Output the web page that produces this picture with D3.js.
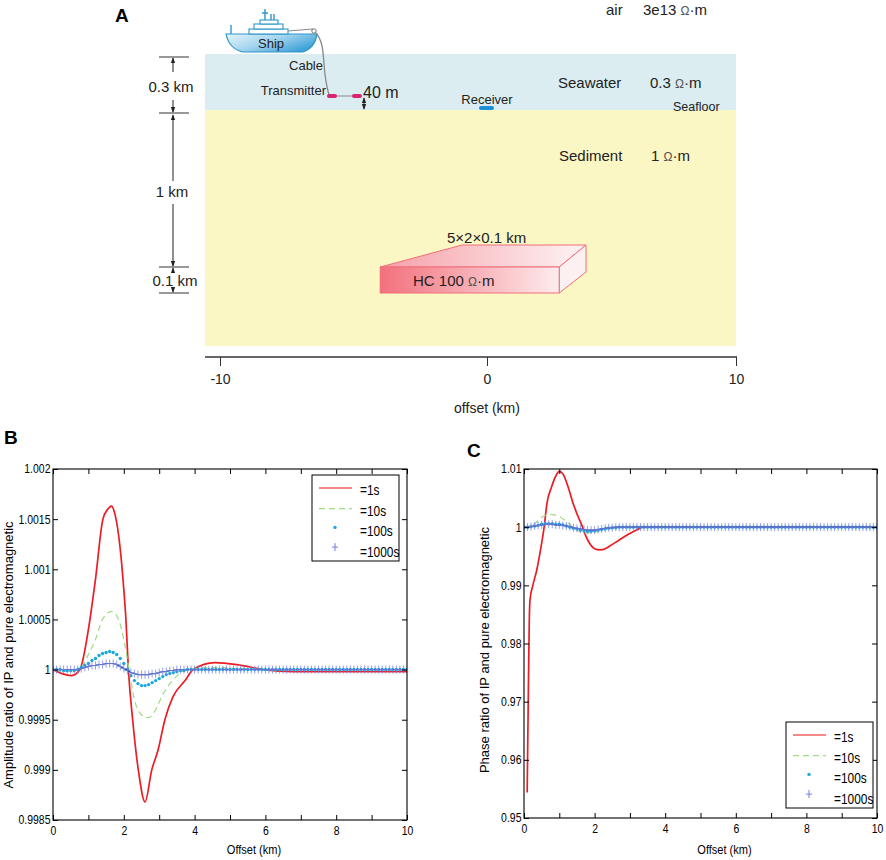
<!DOCTYPE html>
<html>
<head>
<meta charset="utf-8">
<script src="https://cdn.jsdelivr.net/npm/d3@7"></script>
<style>
body{margin:0;background:#fff;}
svg{display:block;font-family:"Liberation Sans",Arial,sans-serif;}
</style>
</head>
<body>
<div id="fig"></div>
<script>
// ---- data ----
var modelTicks = [-10, 0, 10];
var offsetTicks = [0,1,2,3,4,5,6,7,8,9,10];
var ampTicks = [0.9985,0.999,0.9995,1,1.0005,1.001,1.0015,1.002];
var phaTicks = [0.95,0.96,0.97,0.98,0.99,1,1.01];
var legendLabels = ["=1s","=10s","=100s","=1000s"];

// sampling grid of the 100s / 1000s markers (km)
var offsetGrid = [0,0.1,0.2,0.3,0.4,0.5,0.6,0.7,0.8,0.9,
  1,1.1,1.2,1.3,1.4,1.5,1.6,1.7,1.8,1.9,
  2,2.1,2.2,2.3,2.4,2.5,2.6,2.7,2.8,2.9,
  3,3.1,3.2,3.3,3.4,3.5,3.6,3.7,3.8,3.9,
  4,4.1,4.2,4.3,4.4,4.5,4.6,4.7,4.8,4.9,
  5,5.1,5.2,5.3,5.4,5.5,5.6,5.7,5.8,5.9,
  6,6.1,6.2,6.3,6.4,6.5,6.6,6.7,6.8,6.9,
  7,7.1,7.2,7.3,7.4,7.5,7.6,7.7,7.8,7.9,
  8,8.1,8.2,8.3,8.4,8.5,8.6,8.7,8.8,8.9,
  9,9.1,9.2,9.3,9.4,9.5,9.6,9.7,9.8,9.9,
  10];

// B: amplitude ratio
var ampT1Off = [0,0.25,0.53,0.76,1.0,1.2,1.41,1.55,1.65,1.75,1.9,2.0,2.06,2.13,2.25,2.41,2.6,2.79,2.97,3.16,3.39,3.73,3.96,4.57,5.2,5.94,6.8,10];
var ampT1 = [1,0.99996,0.99994,1,1.0004,1.0009,1.0015,1.0016,1.00163,1.00155,1.0012,1.0008,1.0005,1,0.9995,0.999,0.99868,0.999,0.9992,0.9995,0.99973,0.99989,1,1.00007,1.00005,1,0.99998,0.99998];
var ampT10Off = [0,0.5,0.8,1.0,1.2,1.4,1.65,1.85,2.0,2.15,2.3,2.5,2.7,2.9,3.1,3.4,3.8,4.5,6,10];
var ampT10 = [1,0.99998,1.00002,1.00015,1.0003,1.0005,1.00058,1.0005,1.0003,1,0.9997,0.99955,0.99952,0.9996,0.99975,0.9999,1,1.00002,1,1];
var ampT100 = [1,1,1,0.99999,0.99999,0.99999,0.99999,1,1.00002,1.00004,
  1.00006,1.00009,1.00011,1.00014,1.00016,1.00017,1.00018,1.00017,1.00015,1.00011,
  1.00006,1,0.99994,0.99989,0.99986,0.99984,0.99984,0.99985,0.99987,0.99989,
  0.99991,0.99993,0.99995,0.99996,0.99997,0.99998,0.99999,0.99999,1,1,
  1,1,1,1,1,1,1,1,1,1,
  1,1,1,1,1,1,1,1,1,1,
  1,1,1,1,1,1,1,1,1,1,
  1,1,1,1,1,1,1,1,1,1,
  1,1,1,1,1,1,1,1,1,1,
  1,1,1,1,1,1,1,1,1,1,
  1];
var ampT1000 = [1,1,1,1,1,1,1,1,1.00001,1.00002,
  1.00003,1.00004,1.00004,1.00005,1.00005,1.00006,1.00006,1.00006,1.00005,1.00003,
  1.00001,0.99999,0.99997,0.99996,0.99995,0.99995,0.99995,0.99995,0.99996,0.99996,
  0.99997,0.99998,0.99998,0.99999,0.99999,1,1,1,1,1,
  1,1,1,1,1,1,1,1,1,1,
  1,1,1,1,1,1,1,1,1,1,
  1,1,1,1,1,1,1,1,1,1,
  1,1,1,1,1,1,1,1,1,1,
  1,1,1,1,1,1,1,1,1,1,
  1,1,1,1,1,1,1,1,1,1,
  1];

// C: phase ratio
var phaT1Off = [0.09,0.12,0.15,0.17,0.25,0.36,0.45,0.57,0.65,0.78,0.9,1.0,1.1,1.25,1.39,1.52,1.66,1.75,1.84,2.0,2.15,2.3,2.44,2.7,2.91,3.19,3.37,4,10];
var phaT1 = [0.9544,0.970,0.984,0.9875,0.990,0.9926,0.9955,1.0,1.0041,1.0069,1.0088,1.0096,1.0092,1.0069,1.0041,1.002,1.0,0.9985,0.9974,0.9963,0.9961,0.9963,0.9968,0.9978,0.9986,0.9995,1.0,1.0,1.0];
var phaT10Off = [0,0.3,0.5,0.75,1.0,1.2,1.4,1.6,1.8,2.0,2.2,2.4,10];
var phaT10 = [1,1.0006,1.0017,1.0022,1.0018,1.001,0.9999,0.9992,0.999,0.9991,0.9996,1,1];
var phaT100 = [1,1,1.0001,1.0002,1.0003,1.0005,1.0006,1.0006,1.0006,1.0005,
  1.0005,1.0004,1.0002,1,0.9998,0.9997,0.9995,0.9994,0.9993,0.9993,
  0.9994,0.9995,0.9996,0.9997,0.9998,0.9999,0.9999,1,1,1,
  1,1,1,1,1,1,1,1,1,1,
  1,1,1,1,1,1,1,1,1,1,
  1,1,1,1,1,1,1,1,1,1,
  1,1,1,1,1,1,1,1,1,1,
  1,1,1,1,1,1,1,1,1,1,
  1,1,1,1,1,1,1,1,1,1,
  1,1,1,1,1,1,1,1,1,1,
  1];
var phaT1000 = [1,1,1.0001,1.0002,1.0003,1.0004,1.0005,1.0005,1.0005,1.0004,
  1.0004,1.0003,1.0002,1.0001,0.9999,0.9998,0.9997,0.9996,0.9995,0.9995,
  0.9995,0.9996,0.9997,0.9998,0.9999,0.9999,1,1,1,1,
  1,1,1,1,1,1,1,1,1,1,
  1,1,1,1,1,1,1,1,1,1,
  1,1,1,1,1,1,1,1,1,1,
  1,1,1,1,1,1,1,1,1,1,
  1,1,1,1,1,1,1,1,1,1,
  1,1,1,1,1,1,1,1,1,1,
  1,1,1,1,1,1,1,1,1,1,
  1];

var RED = "#ec1c24", GREEN = "#9fdc80", CYAN = "#1aa9de", PLUS = "#6f7fe0", NAVY = "#203c96";
var NARROW = "scale(0.85,1)";   // the figure's font is a condensed one

var svg = d3.select("#fig").append("svg").attr("width",886).attr("height",860);
svg.append("rect").attr("width",886).attr("height",860).attr("fill","#fff");
var defs = svg.append("defs");

function grad(id, stops, x2, y2){
    var gr = defs.append("linearGradient").attr("id",id).attr("x1",0).attr("y1",0).attr("x2",x2).attr("y2",y2);
    stops.forEach(function(s){ gr.append("stop").attr("offset",s[0]).attr("stop-color",s[1]); });
}
grad("hull", [[0,"#e6f4fa"],[0.5,"#a6d6ee"],[1,"#3fa2d8"]], 1, 0.6);
grad("hcFront", [[0,"#f2717d"],[0.55,"#f8b4ba"],[1,"#fdecee"]], 1, 0);
grad("hcTop", [[0,"#f6a0a8"],[1,"#fdf3f4"]], 1, 0);
defs.append("marker").attr("id","arr").attr("viewBox","0 0 8 8").attr("refX",7).attr("refY",4)
    .attr("markerWidth",6).attr("markerHeight",6).attr("orient","auto-start-reverse")
    .append("path").attr("d","M0,1L8,4L0,7z").attr("fill","#222");

// ================= panel A : model sketch =================
var modelX = d3.scaleLinear().domain([-10,0,10]).range([220,487,736]);
var modelY = d3.scaleLinear().domain([0,0.3,1.3,1.4]).range([54,110,267,293]);
var gA = svg.append("g");

gA.append("text").attr("x",115).attr("y",22).attr("font-size","19px").attr("font-weight","bold").text("A");

gA.append("rect").attr("x",205).attr("y",modelY(0)).attr("width",531).attr("height",modelY(0.3)-modelY(0)).attr("fill","#dcedf1");
gA.append("rect").attr("x",205).attr("y",modelY(0.3)).attr("width",531).attr("height",346-modelY(0.3)).attr("fill","#faf7c4");

// hc body
var hcL = modelX(-4), hcR = modelX(2.9);
gA.append("polygon").attr("points",[[hcL,modelY(1.3)],[462,245],[586,245],[hcR,modelY(1.3)]].join(" "))
    .attr("fill","url(#hcTop)").attr("stroke","#ef6f7a");
gA.append("polygon").attr("points",[[hcR,modelY(1.3)],[586,245],[586,272],[hcR,modelY(1.4)]].join(" "))
    .attr("fill","#fdf0f1").attr("stroke","#ef6f7a");
gA.append("rect").attr("x",hcL).attr("y",modelY(1.3)).attr("width",hcR-hcL).attr("height",modelY(1.4)-modelY(1.3))
    .attr("fill","url(#hcFront)").attr("stroke","#ef6f7a");
gA.append("text").attr("x",413).attr("y",286).attr("font-size","15px").attr("fill","#222")
    .html("HC 100 <tspan font-size='12px' fill='#555'>Ω</tspan>·m");
gA.append("text").attr("x",447).attr("y",243).attr("font-size","15px").attr("fill","#222").text("5×2×0.1 km");

// ship
gA.append("path").attr("d","M226,34L317,34C316,42 312,49 303,52L243,52C234,50 228,44 226,34Z")
    .attr("fill","url(#hull)").attr("stroke","#2f96c8").attr("stroke-width",1.2);
[[249,29,39,5],[254,24,29,5],[260,20,18,4]].forEach(function(r){
    gA.append("rect").attr("x",r[0]).attr("y",r[1]).attr("width",r[2]).attr("height",r[3])
      .attr("fill","#fff").attr("stroke","#2f96c8").attr("stroke-width",1.1);
});
gA.append("path").attr("d","M265,20V9M262,13H268M271,20V14M274,20V14M231,34V25").attr("stroke","#2f96c8").attr("stroke-width",1.4).attr("fill","none");
gA.append("text").attr("x",271).attr("y",48).attr("text-anchor","middle").attr("font-size","13px").attr("fill","#222").text("Ship");
// cable + transmitter
gA.append("path").attr("d","M288,31L313,29").attr("stroke","#888").attr("fill","none").attr("stroke-width",1.2);
gA.append("circle").attr("cx",314).attr("cy",31).attr("r",2.2).attr("fill","none").attr("stroke","#777");
gA.append("path").attr("d","M315,32C323,40 323,52 324,64C325,78 327,88 329,95").attr("stroke","#888").attr("fill","none").attr("stroke-width",1.3);
gA.append("line").attr("x1",332).attr("x2",357).attr("y1",96).attr("y2",96).attr("stroke","#999").attr("stroke-width",1.2);
[327,352].forEach(function(cx){
    gA.append("rect").attr("x",cx).attr("y",94).attr("width",10).attr("height",4).attr("rx",2).attr("fill","#d8246f");
});
gA.append("rect").attr("x",modelX(0)-8).attr("y",106).attr("width",15).attr("height",4).attr("rx",2).attr("fill","#1d8fd8");
gA.append("line").attr("x1",364).attr("x2",364).attr("y1",98).attr("y2",109).attr("stroke","#222")
    .attr("marker-start","url(#arr)").attr("marker-end","url(#arr)");

var aLabels = [
    {t:"Cable", x:306, y:70, s:13, a:"middle"},
    {t:"Transmitter", x:326, y:95, s:13, a:"end"},
    {t:"40 m", x:363, y:98, s:16, a:"start"},
    {t:"Receiver", x:modelX(0), y:104, s:13, a:"middle"},
    {t:"Seafloor", x:673, y:111, s:12.5, a:"start"},
    {t:"0.3 km", x:171, y:92, s:15, a:"middle"},
    {t:"1 km", x:172, y:197, s:15, a:"middle"},
    {t:"0.1 km", x:175, y:286, s:15, a:"middle"}
];
aLabels.forEach(function(l){
    gA.append("text").attr("x",l.x).attr("y",l.y).attr("font-size",l.s+"px").attr("text-anchor",l.a).attr("fill","#222").text(l.t);
});
var layerLabels = [
    {t:"air", x:606, r:"3e13", rx:643, y:15},
    {t:"Seawater", x:558, r:"0.3", rx:650, y:88},
    {t:"Sediment", x:559, r:"1", rx:651, y:161}
];
layerLabels.forEach(function(l){
    gA.append("text").attr("x",l.x).attr("y",l.y).attr("font-size","15px").attr("fill","#222").text(l.t);
    gA.append("text").attr("x",l.rx).attr("y",l.y).attr("font-size","15px").attr("fill","#222")
      .html(l.r+" <tspan font-size='12px' fill='#555'>Ω</tspan>·m");
});

// depth dimension marks
[57,113,modelY(1.3),modelY(1.4)].forEach(function(yy){
    gA.append("line").attr("x1",159).attr("x2",189).attr("y1",yy).attr("y2",yy).attr("stroke","#333");
});
[[72,58],[100,112],[181,115],[204,266],[273,268],[288,292]].forEach(function(s){
    gA.append("line").attr("x1",173).attr("x2",173).attr("y1",s[0]).attr("y2",s[1]).attr("stroke","#222")
      .attr("marker-end","url(#arr)");
});

// offset axis
var axA = gA.append("g").attr("transform","translate(0,357)")
    .call(d3.axisBottom(modelX).tickValues(modelTicks).tickSize(9).tickPadding(8).tickSizeOuter(0)
        .tickFormat(function(d){return String(d);}));
axA.select(".domain").remove();
axA.attr("font-size",null).attr("font-family",null);
axA.selectAll("line").attr("stroke","#333");
axA.selectAll("text").attr("font-size","14px").attr("fill","#222");
gA.append("line").attr("x1",205).attr("x2",737).attr("y1",357).attr("y2",357).attr("stroke","#333").attr("stroke-width",1.3);
gA.append("text").attr("x",modelX(0)).attr("y",413).attr("text-anchor","middle").attr("font-size","14px").attr("fill","#222").text("offset (km)");

// ================= panels B and C =================
function plusPath(d){ return "M-3,0H3M0,-4V4"; }

function ratioPanel(p){
    var x = d3.scaleLinear().domain([0,10]).range([p.x0,p.x1]);
    var y = d3.scaleLinear().domain([p.ticks[0],p.ticks[p.ticks.length-1]]).range([p.y1,p.y0]);
    var g = svg.append("g");
    defs.append("clipPath").attr("id","clip"+p.id).append("rect")
        .attr("x",p.x0).attr("y",p.y0).attr("width",p.x1-p.x0).attr("height",p.y1-p.y0);
    var plot = g.append("g").attr("clip-path","url(#clip"+p.id+")");
    var line = d3.line().x(function(d){return x(d[0]);}).y(function(d){return y(d[1]);}).curve(d3.curveMonotoneX);

    plot.append("path").datum(d3.zip(p.t1x,p.t1)).attr("d",line)
        .attr("fill","none").attr("stroke",RED).attr("stroke-width",1.7);
    plot.append("path").datum(d3.zip(p.t10x,p.t10)).attr("d",line)
        .attr("fill","none").attr("stroke",GREEN).attr("stroke-width",1.2).attr("stroke-dasharray","6,4");
    plot.selectAll(".c100").data(d3.zip(offsetGrid,p.t100)).enter().append("circle")
        .attr("cx",function(d){return x(d[0]);}).attr("cy",function(d){return y(d[1]);})
        .attr("r",1.7).attr("fill",CYAN);
    plot.append("path").datum(d3.zip(offsetGrid,p.t1000)).attr("d",line.curve(d3.curveLinear))
        .attr("fill","none").attr("stroke",NAVY).attr("stroke-width",1.1);
    plot.selectAll(".c1000").data(d3.zip(offsetGrid,p.t1000)).enter().append("path")
        .attr("transform",function(d){return "translate("+x(d[0])+","+y(d[1])+")";})
        .attr("d",plusPath).attr("stroke",PLUS).attr("stroke-opacity",0.75).attr("fill","none");

    function tidy(ax){
        ax.select(".domain").remove();
        ax.attr("font-size",null).attr("font-family",null);
        ax.selectAll("line").attr("stroke","#000");
        ax.selectAll("text").attr("font-size","12.3px").attr("fill","#000").attr("transform",NARROW);
    }
    g.append("g").attr("transform","translate(0,"+p.y1+")")
        .call(d3.axisBottom(x).tickValues(offsetTicks).tickSize(-5).tickPadding(6)
            .tickFormat(function(d){return d%2 ? "" : d;})).call(tidy);
    g.append("g").attr("transform","translate(0,"+p.y0+")")
        .call(d3.axisTop(x).tickValues(offsetTicks).tickSize(-5).tickFormat("")).call(tidy);
    g.append("g").attr("transform","translate("+p.x0+",0)")
        .call(d3.axisLeft(y).tickValues(p.ticks).tickSize(-5).tickPadding(3)
            .tickFormat(function(d){return String(+d.toFixed(4));})).call(tidy);
    g.append("g").attr("transform","translate("+p.x1+",0)")
        .call(d3.axisRight(y).tickValues(p.ticks).tickSize(-5).tickFormat("")).call(tidy);
    g.append("rect").attr("x",p.x0).attr("y",p.y0).attr("width",p.x1-p.x0).attr("height",p.y1-p.y0)
        .attr("fill","none").attr("stroke","#000").attr("stroke-width",1.1);

    g.append("text").attr("transform","translate("+((p.x0+p.x1)/2+24)+",854) "+NARROW).attr("text-anchor","middle")
        .attr("font-size","13px").text("Offset (km)");
    g.append("text").attr("transform","translate("+p.ylx+","+p.ylc+") rotate(-90)").attr("text-anchor","middle")
        .attr("font-size","13px").text(p.ylabel);
    g.append("text").attr("x",p.lx).attr("y",p.ly).attr("font-size","19px").attr("font-weight","bold").text(p.id);

    // legend
    var lg = g.append("g").attr("transform","translate("+p.legX+","+p.legY+")");
    lg.append("rect").attr("width",87).attr("height",86).attr("fill","#fff").attr("stroke","#000");
    legendLabels.forEach(function(lab,i){
        var yy = 15 + i*20.7;
        if(i==0) lg.append("line").attr("x1",7).attr("x2",40).attr("y1",yy-2).attr("y2",yy-2).attr("stroke",RED).attr("stroke-opacity",0.7).attr("stroke-width",1.3);
        if(i==1) lg.append("line").attr("x1",7).attr("x2",40).attr("y1",yy-2).attr("y2",yy-2).attr("stroke",GREEN).attr("stroke-width",1.2).attr("stroke-dasharray","6,4");
        if(i==2) lg.append("circle").attr("cx",23).attr("cy",yy-4).attr("r",1.7).attr("fill",CYAN);
        if(i==3) lg.append("path").attr("transform","translate(23,"+(yy-5)+")").attr("d",plusPath).attr("stroke",PLUS).attr("fill","none");
        lg.append("text").attr("transform","translate(48,"+(yy+5)+") "+NARROW).attr("font-size","14px").text(lab);
    });
}

ratioPanel({id:"B", x0:53, x1:407, y0:469, y1:820, ticks:ampTicks,
    t1x:ampT1Off, t1:ampT1, t10x:ampT10Off, t10:ampT10, t100:ampT100, t1000:ampT1000,
    ylabel:"Amplitude ratio of IP and pure electromagnetic", ylx:13, ylc:655, lx:4, ly:444, legX:312, legY:475});
ratioPanel({id:"C", x0:524, x1:877, y0:469, y1:818, ticks:phaTicks,
    t1x:phaT1Off, t1:phaT1, t10x:phaT10Off, t10:phaT10, t100:phaT100, t1000:phaT1000,
    ylabel:"Phase ratio of IP and pure electromagnetic", ylx:489, ylc:650, lx:467, ly:457, legX:786, legY:722});
</script>
</body>
</html>
